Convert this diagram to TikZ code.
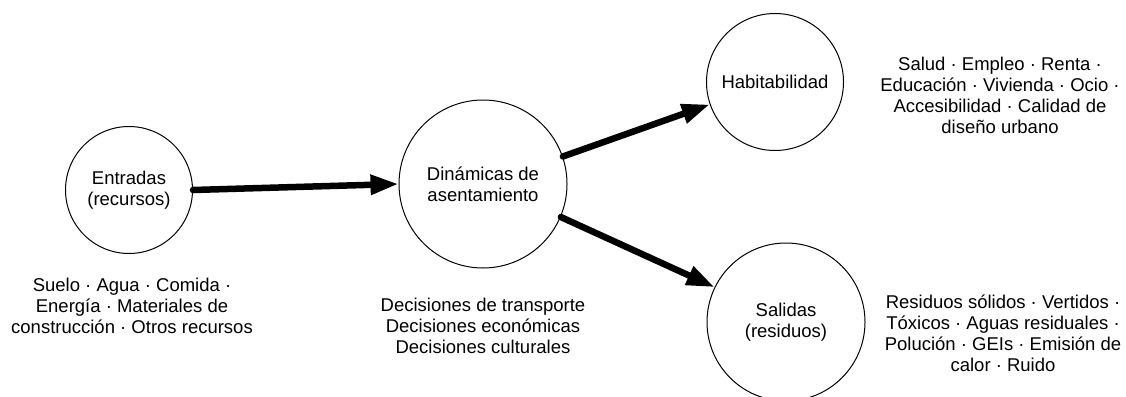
\documentclass[tikz,border=0pt]{standalone}
\usepackage{fontspec}
\setmainfont{Liberation Sans}
\usetikzlibrary{arrows.meta}
\tikzset{
  circ/.style={circle, draw=black, line width=1pt, inner sep=0pt, align=center, font=\fontsize{18.5}{21}\selectfont},
  lbl/.style={align=center, inner sep=0pt, font=\fontsize{18.5}{21}\selectfont},
  bigarrow/.style={line width=6.5pt, line cap=round, -{Triangle[length=28pt,width=19pt]}}
}
\begin{document}
\begin{tikzpicture}[x=1pt,y=-1pt]
\useasboundingbox (0,0) rectangle (1126,396);
\node[circ, minimum size=127pt] (e) at (129,190) {Entradas\\(recursos)};
\node[circ, minimum size=168pt] (d) at (483,184) {Dinámicas de\\asentamiento};
\node[circ, minimum size=137pt] (h) at (775,82) {Habitabilidad};
\node[circ, minimum size=158pt] (s) at (786,322) {Salidas\\(residuos)};
\draw[bigarrow] (e.east) -- (d.west);
\draw[bigarrow] (d.19) -- (h.199);
\draw[bigarrow] (d.337) -- (s.154);
\node[lbl] (te) at (132,306) {Suelo · Agua · Comida ·\\Energía · Materiales de\\construcción · Otros recursos};
\node[lbl] (td) at (483,326) {Decisiones de transporte\\Decisiones económicas\\Decisiones culturales};
\node[lbl] (th) at (1000,95) {Salud · Empleo · Renta ·\\Educación · Vivienda · Ocio ·\\Accesibilidad · Calidad de\\diseño urbano};
\node[lbl] (ts) at (1003,333) {Residuos sólidos · Vertidos ·\\Tóxicos · Aguas residuales ·\\Polución · GEIs · Emisión de\\calor · Ruido};
\end{tikzpicture}
\end{document}
